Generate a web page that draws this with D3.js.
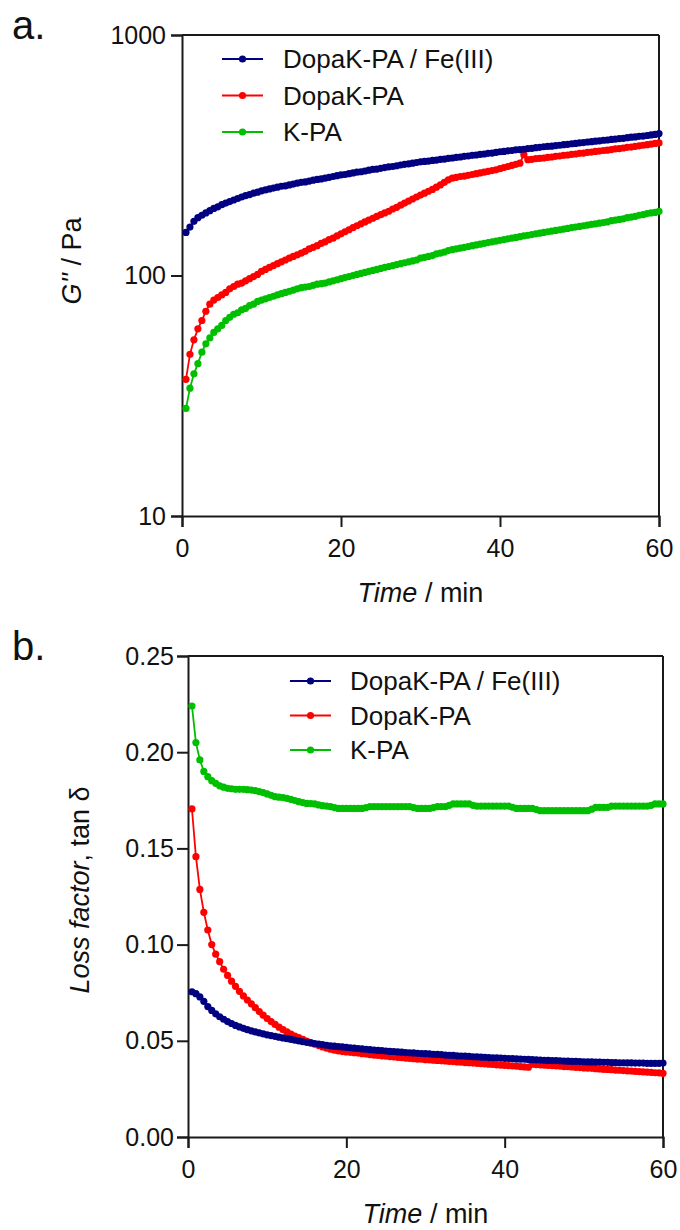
<!DOCTYPE html>
<html>
<head>
<meta charset="utf-8">
<script src="https://cdnjs.cloudflare.com/ajax/libs/d3/7.8.5/d3.min.js"></script>
<style>
  body { margin: 0; background: #fff; }
  svg { display: block; font-family: "Liberation Sans", Arial, sans-serif; }
</style>
</head>
<body>
<svg id="chart" width="680" height="1230"></svg>
<script>
// sampling times (min), one point every 0.5 min
var times = [
    0.5, 1, 1.5, 2, 2.5, 3, 3.5, 4, 4.5, 5,
    5.5, 6, 6.5, 7, 7.5, 8, 8.5, 9, 9.5, 10,
    10.5, 11, 11.5, 12, 12.5, 13, 13.5, 14, 14.5, 15,
    15.5, 16, 16.5, 17, 17.5, 18, 18.5, 19, 19.5, 20,
    20.5, 21, 21.5, 22, 22.5, 23, 23.5, 24, 24.5, 25,
    25.5, 26, 26.5, 27, 27.5, 28, 28.5, 29, 29.5, 30,
    30.5, 31, 31.5, 32, 32.5, 33, 33.5, 34, 34.5, 35,
    35.5, 36, 36.5, 37, 37.5, 38, 38.5, 39, 39.5, 40,
    40.5, 41, 41.5, 42, 42.5, 43, 43.5, 44, 44.5, 45,
    45.5, 46, 46.5, 47, 47.5, 48, 48.5, 49, 49.5, 50,
    50.5, 51, 51.5, 52, 52.5, 53, 53.5, 54, 54.5, 55,
    55.5, 56, 56.5, 57, 57.5, 58, 58.5, 59, 59.5, 60
]

var seriesNames = ["DopaK-PA / Fe(III)", "DopaK-PA", "K-PA"]
var seriesColors = ["#000080", "#ff0000", "#00bf00"]

// G'' / Pa
var lossModFe = [
    151, 159, 168, 174, 178, 182, 186, 190, 193, 197,
    200, 203, 206, 209, 212, 215, 217, 220, 222, 225,
    227, 229, 231, 233, 235, 236, 238, 240, 242, 244,
    245, 247, 249, 251, 252, 254, 256, 258, 260, 262,
    263, 265, 267, 269, 270, 272, 274, 276, 277, 279,
    281, 283, 284, 286, 288, 290, 291, 293, 295, 297,
    298, 299, 301, 302, 304, 305, 307, 308, 310, 311,
    313, 314, 316, 317, 319, 320, 322, 323, 325, 327,
    328, 330, 331, 333, 334, 335, 337, 338, 340, 341,
    343, 344, 345, 347, 348, 350, 351, 353, 354, 356,
    357, 359, 360, 362, 363, 365, 366, 368, 369, 371,
    372, 374, 376, 377, 379, 380, 382, 384, 386, 389
]
var lossModDopa = [
    37, 47, 54, 60, 65, 71, 76, 79, 81, 83,
    85, 88, 90, 92, 93, 95, 97, 99, 101, 104,
    106, 108, 110, 112, 114, 116, 118, 120, 122, 124,
    126, 129, 131, 133, 136, 138, 141, 143, 146, 149,
    152, 155, 158, 161, 164, 167, 170, 173, 176, 179,
    182, 185, 189, 192, 196, 200, 204, 208, 212, 216,
    220, 224, 228, 233, 238, 244, 250, 254, 256, 258,
    259, 261, 263, 265, 267, 269, 271, 273, 275, 278,
    281, 284, 287, 290, 293, 318, 303, 304, 306, 307,
    308, 310, 311, 313, 314, 316, 317, 319, 320, 322,
    323, 325, 326, 328, 329, 331, 332, 334, 336, 337,
    339, 341, 342, 344, 346, 348, 350, 352, 354, 356
]
var lossModK = [
    28, 34, 39, 43, 48, 52, 55, 58, 60, 62,
    65, 67, 69, 70, 72, 73, 75, 76, 78, 79,
    80, 81, 82, 83, 84, 85, 86, 87, 88, 89,
    89.5, 90, 91, 92, 92.5, 93, 94, 95, 96, 97,
    98, 99, 100, 101, 102, 103, 104, 105, 106, 107,
    108, 109, 110, 111, 112, 113, 114, 115, 116, 118,
    119, 120, 121, 123, 124, 125, 127, 128, 129, 130,
    131, 132, 133, 134, 135, 136, 137, 138, 139, 140,
    141, 142, 143, 144, 145, 146, 147, 148, 149, 150,
    151, 152, 153, 154, 155, 156, 157, 158, 159, 160,
    161, 162, 163, 164, 165, 166, 167, 169, 170, 171,
    172, 174, 175, 176, 178, 179, 181, 182, 183, 185
]

// loss factor tan delta
var tanFe = [
    0.0755, 0.0745, 0.0728, 0.0705, 0.0678, 0.0658, 0.0640, 0.0625, 0.0612, 0.0600,
    0.0590, 0.0580, 0.0572, 0.0565, 0.0558, 0.0552, 0.0546, 0.0541, 0.0536, 0.0531,
    0.0527, 0.0523, 0.0519, 0.0515, 0.0511, 0.0507, 0.0503, 0.0499, 0.0495, 0.0492,
    0.0489, 0.0486, 0.0483, 0.0480, 0.0477, 0.0474, 0.0472, 0.0470, 0.0468, 0.0466,
    0.0464, 0.0462, 0.0460, 0.0458, 0.0456, 0.0454, 0.0452, 0.0450, 0.0449, 0.0447,
    0.0445, 0.0444, 0.0442, 0.0441, 0.0439, 0.0438, 0.0437, 0.0435, 0.0434, 0.0433,
    0.0432, 0.0430, 0.0429, 0.0428, 0.0426, 0.0425, 0.0424, 0.0422, 0.0421, 0.0420,
    0.0419, 0.0417, 0.0416, 0.0415, 0.0414, 0.0413, 0.0412, 0.0411, 0.0410, 0.0409,
    0.0408, 0.0407, 0.0406, 0.0405, 0.0404, 0.0403, 0.0402, 0.0401, 0.0400, 0.0399,
    0.0398, 0.0397, 0.0397, 0.0396, 0.0395, 0.0394, 0.0393, 0.0393, 0.0392, 0.0391,
    0.0390, 0.0390, 0.0389, 0.0389, 0.0388, 0.0388, 0.0387, 0.0387, 0.0386, 0.0386,
    0.0385, 0.0385, 0.0384, 0.0384, 0.0384, 0.0383, 0.0383, 0.0383, 0.0383, 0.0384
]
var tanDopa = [
    0.1705, 0.1457, 0.1287, 0.1168, 0.1076, 0.1000, 0.0950, 0.0911, 0.0872, 0.0840,
    0.0810, 0.0783, 0.0757, 0.0733, 0.0712, 0.0692, 0.0672, 0.0652, 0.0633, 0.0616,
    0.0600, 0.0585, 0.0571, 0.0558, 0.0546, 0.0535, 0.0525, 0.0516, 0.0507, 0.0499,
    0.0490, 0.0482, 0.0475, 0.0468, 0.0462, 0.0456, 0.0451, 0.0447, 0.0444, 0.0442,
    0.0440, 0.0438, 0.0436, 0.0433, 0.0431, 0.0428, 0.0426, 0.0424, 0.0422, 0.0420,
    0.0418, 0.0416, 0.0414, 0.0412, 0.0410, 0.0408, 0.0407, 0.0405, 0.0404, 0.0402,
    0.0401, 0.0399, 0.0398, 0.0396, 0.0395, 0.0393, 0.0392, 0.0390, 0.0389, 0.0387,
    0.0386, 0.0384, 0.0383, 0.0381, 0.0380, 0.0378, 0.0377, 0.0375, 0.0374, 0.0372,
    0.0371, 0.0369, 0.0368, 0.0366, 0.0364, 0.0363, 0.0378, 0.0376, 0.0375, 0.0373,
    0.0372, 0.0371, 0.0369, 0.0368, 0.0366, 0.0365, 0.0364, 0.0362, 0.0361, 0.0359,
    0.0358, 0.0357, 0.0355, 0.0354, 0.0352, 0.0351, 0.0350, 0.0348, 0.0347, 0.0345,
    0.0344, 0.0343, 0.0341, 0.0340, 0.0338, 0.0337, 0.0336, 0.0334, 0.0333, 0.0331
]
var tanK = [
    0.2240, 0.2050, 0.1960, 0.1900, 0.1873, 0.1852, 0.1838, 0.1825, 0.1818, 0.1812,
    0.1810, 0.1807, 0.1807, 0.1807, 0.1805, 0.1803, 0.1800, 0.1795, 0.1790, 0.1783,
    0.1776, 0.1769, 0.1766, 0.1764, 0.1760, 0.1755, 0.1749, 0.1743, 0.1738, 0.1734,
    0.1733, 0.1731, 0.1726, 0.1722, 0.1720, 0.1717, 0.1712, 0.1708, 0.1708, 0.1708,
    0.1708, 0.1708, 0.1708, 0.1708, 0.1712, 0.1717, 0.1717, 0.1717, 0.1717, 0.1717,
    0.1717, 0.1717, 0.1717, 0.1717, 0.1717, 0.1717, 0.1712, 0.1708, 0.1708, 0.1708,
    0.1708, 0.1712, 0.1717, 0.1717, 0.1717, 0.1724, 0.1731, 0.1731, 0.1731, 0.1731,
    0.1731, 0.1724, 0.1720, 0.1720, 0.1720, 0.1720, 0.1720, 0.1720, 0.1720, 0.1720,
    0.1720, 0.1714, 0.1708, 0.1708, 0.1708, 0.1708, 0.1708, 0.1702, 0.1696, 0.1696,
    0.1696, 0.1696, 0.1696, 0.1696, 0.1696, 0.1696, 0.1696, 0.1696, 0.1696, 0.1696,
    0.1696, 0.1704, 0.1713, 0.1713, 0.1713, 0.1713, 0.1720, 0.1720, 0.1720, 0.1720,
    0.1720, 0.1720, 0.1720, 0.1720, 0.1720, 0.1720, 0.1724, 0.1731, 0.1731, 0.1731
]

var xTicks = [0, 20, 40, 60]
var modTicks = [10, 100, 1000]
var tanTicks = [0, 0.05, 0.10, 0.15, 0.20, 0.25]

var svg = d3.select("#chart")
var axisColor = "#1a1a1a"

function drawPanel(p) {
    var g = svg.append("g")
        .attr("transform", "translate(" + p.left + "," + p.top + ")")

    var x = d3.scaleLinear().domain([0, 60]).range([0, p.width])
    var y = p.y.range([p.height, 0])

    // frame top + right
    g.append("line")
        .attr("x1", 0).attr("x2", p.width).attr("y1", 0).attr("y2", 0)
        .attr("stroke", axisColor).attr("stroke-width", 2)
    g.append("line")
        .attr("x1", p.width).attr("x2", p.width).attr("y1", 0).attr("y2", p.height)
        .attr("stroke", axisColor).attr("stroke-width", 2)

    var xa = g.append("g")
        .attr("transform", "translate(0," + p.height + ")")
        .call(d3.axisBottom(x).tickValues(xTicks).tickSize(11).tickPadding(12))
    var ya = g.append("g")
        .call(d3.axisLeft(y).tickValues(p.yTicks).tickFormat(p.yFormat).tickSize(11).tickPadding(p.yPad))

    ;[xa, ya].forEach(function (a) {
        a.attr("font-family", null).attr("font-size", null)
        a.selectAll("path, line").attr("stroke", axisColor).attr("stroke-width", 2)
        a.selectAll("text").attr("fill", "#111").style("font-size", "25px")
    })

    var line = d3.line()
        .x(d => x(d.t))
        .y(d => y(d.v))

    // draw green first so the navy series sits on top
    for (var s = p.series.length - 1; s >= 0; s--) {
        var pts = times.map((t, i) => ({ t: t, v: p.series[s][i] }))
        var sg = g.append("g")
        sg.append("path")
            .datum(pts)
            .attr("d", line)
            .attr("fill", "none")
            .attr("stroke", seriesColors[s])
            .attr("stroke-width", 1.8)
        sg.selectAll("circle")
            .data(pts)
            .join("circle")
            .attr("cx", d => x(d.t))
            .attr("cy", d => y(d.v))
            .attr("r", 3.6)
            .attr("fill", seriesColors[s])
    }

    // legend
    var lg = g.append("g")
        .attr("transform", "translate(" + p.legendX + "," + p.legendY + ")")
    var items = lg.selectAll("g")
        .data(seriesNames)
        .join("g")
        .attr("transform", (d, i) => "translate(0," + i * p.legendStep + ")")
    items.append("line")
        .attr("x1", 0).attr("x2", 41).attr("y1", 0).attr("y2", 0)
        .attr("stroke", (d, i) => seriesColors[i]).attr("stroke-width", 2)
    items.append("circle")
        .attr("cx", 20.5).attr("cy", 0).attr("r", 3.6)
        .attr("fill", (d, i) => seriesColors[i])
    items.append("text")
        .attr("x", p.legendText)
        .attr("dy", "0.36em")
        .style("font-size", "26px")
        .attr("fill", "#111")
        .text(d => d)

    // x title
    var xt = g.append("text")
        .attr("x", p.width / 2)
        .attr("y", p.height + 86)
        .attr("text-anchor", "middle")
        .style("font-size", "27px")
        .attr("fill", "#111")
    xt.append("tspan").style("font-style", "italic").text("Time")
    xt.append("tspan").text(" / min")

    // y title
    var yt = g.append("text")
        .attr("transform", "rotate(-90)")
        .attr("x", -(p.yTitleMid - p.top))
        .attr("y", p.yTitleX - p.left)
        .attr("text-anchor", "middle")
        .style("font-size", "27px")
        .attr("fill", "#111")
    yt.append("tspan").style("font-style", "italic").text(p.yTitle[0])
    yt.append("tspan").text(p.yTitle[1])

    // panel letter
    svg.append("text")
        .attr("x", 12)
        .attr("y", p.top + 4)
        .style("font-size", "40px")
        .attr("fill", "#111")
        .text(p.letter)
}

drawPanel({
    left: 182, top: 35, width: 477, height: 481,
    y: d3.scaleLog().domain([10, 1000]),
    yTicks: modTicks, yFormat: d3.format("d"), yPad: 5,
    series: [lossModFe, lossModDopa, lossModK],
    legendX: 40, legendY: 24, legendStep: 36.5, legendText: 61,
    yTitle: ["G''", " / Pa"], yTitleX: 81, yTitleMid: 261,
    letter: "a."
})

drawPanel({
    left: 188, top: 656, width: 475, height: 481,
    y: d3.scaleLinear().domain([0, 0.25]),
    yTicks: tanTicks, yFormat: d3.format(".2f"), yPad: 3,
    series: [tanFe, tanDopa, tanK],
    legendX: 102, legendY: 25, legendStep: 34.5, legendText: 60,
    yTitle: ["Loss factor", ", tan \u03b4"], yTitleX: 89, yTitleMid: 890,
    letter: "b."
})
</script>
</body>
</html>
